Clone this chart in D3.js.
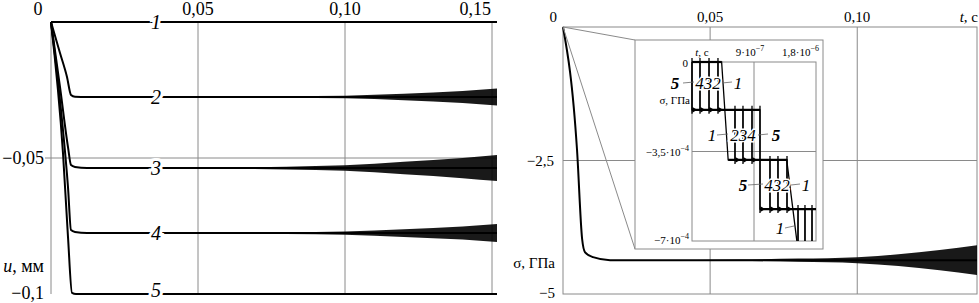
<!DOCTYPE html>
<html>
<head>
<meta charset="utf-8">
<script src="https://cdn.jsdelivr.net/npm/d3@7"></script>
<style>
body { margin: 0; background: #fff; }
text { font-family: "Liberation Serif", "DejaVu Serif", serif; fill: #000; }
</style>
</head>
<body>
<svg id="chart" width="979" height="303"></svg>
<script>
// ---- left panel: u (mm) vs t (s) ----
var uTicksT = [0.05, 0.10, 0.15];
var uTickLabelsT = ["0,05", "0,10", "0,15"];
var uGridU = [-0.05];
var uCurve1 = [[0, 0], [0.1517, 0]];
var uCurve2 = [[0, 0], [0.00306, -0.0114], [0.00544, -0.0202], [0.0068, -0.0268], [0.00816, -0.02745], [0.01224, -0.02757], [0.1517, -0.02757]];
var uCurve3 = [[0, 0], [0.00306, -0.0239], [0.00578, -0.046], [0.0068, -0.0526], [0.00816, -0.0533], [0.01224, -0.0537], [0.1517, -0.0537]];
var uCurve4 = [[0, 0], [0.00374, -0.036], [0.00578, -0.0607], [0.0068, -0.0765], [0.00816, -0.0772], [0.01224, -0.0776], [0.1517, -0.0776]];
var uCurve5 = [[0, 0], [0.00408, -0.0482], [0.00578, -0.079], [0.00714, -0.0996], [0.0085, -0.1], [0.01224, -0.1], [0.1517, -0.1]];
var uCurveNames = ["1", "2", "3", "4", "5"];
// oscillation envelope (half amplitude, mm) of curves 2-4
var uEnvT = [0.05, 0.06, 0.08, 0.10, 0.12, 0.14, 0.1517];
var uEnv2 = [0, 0.00015, 0.0003, 0.0005, 0.0012, 0.0022, 0.0031];
var uEnv3 = [0, 0.0002, 0.0005, 0.001, 0.0023, 0.0037, 0.0048];
var uEnv4 = [0, 0.00015, 0.0003, 0.0006, 0.0014, 0.0024, 0.0033];

// ---- right panel: sigma (GPa) vs t (s) ----
var sTicksT = [0.05, 0.10];
var sTickLabelsT = ["0,05", "0,10"];
var sGridS = [-2.5];
var sCurve = [[0, 0], [0.00476, -2.295], [0.0065, -3.97], [0.0075, -4.22], [0.0102, -4.31], [0.016, -4.366], [0.1407, -4.366]];
var sEnvT = [0.03, 0.06, 0.08, 0.10, 0.114, 0.128, 0.1407];
var sEnv = [0, 0.012, 0.03, 0.056, 0.11, 0.19, 0.28];

// ---- inset: sigma vs t at micro-second scale ----
var L1 = -1.87e-4, L2 = -3.83e-4, L3 = -5.75e-4, L4 = -7.6e-4;
var inCurve1 = [[0, 0], [4.3e-7, 0], [5.25e-7, L2], [1.375e-6, L2], [1.55e-6, L4], [1.8e-6, L4]];
var inCurve2 = [[0, 0], [3.77e-7, L1], [6.24e-7, L2], [1.379e-6, L3], [1.539e-6, L4], [1.8e-6, L4]];
var inCurve3 = [[0, 0], [2.47e-7, L1], [7.40e-7, L2], [1.248e-6, L3], [1.640e-6, L4], [1.8e-6, L4]];
var inCurve4 = [[0, 0], [1.16e-7, L1], [8.71e-7, L2], [1.132e-6, L3], [1.742e-6, L4], [1.8e-6, L4]];
var inCurve5 = [[0, 0], [0, L1], [9.87e-7, L3], [1.8e-6, L3]];

var svg = d3.select("#chart");
var grid = "#8a8a8a";

//scales
var xL = d3.scaleLinear().domain([0, 0.1517]).range([51, 497]);
var yL = d3.scaleLinear().domain([0, -0.1]).range([22, 294]);
var xR = d3.scaleLinear().domain([0, 0.1407]).range([563, 977]);
var yR = d3.scaleLinear().domain([0, -5]).range([27, 294]);
var xI = d3.scaleLinear().domain([0, 1.8e-6]).range([692, 816]);
var yI = d3.scaleLinear().domain([0, -7e-4]).range([62, 241]);

// ===== left panel =====
var left = svg.append("g");
left.selectAll(".vg").data(uTicksT).enter().append("line")
  .attr("x1", d => xL(d)).attr("x2", d => xL(d))
  .attr("y1", yL(0)).attr("y2", yL(-0.1))
  .attr("stroke", grid).attr("stroke-width", 1);
left.append("line").attr("x1", xL(0)).attr("x2", xL(0)).attr("y1", yL(0)).attr("y2", yL(-0.1))
  .attr("stroke", grid);
left.selectAll(".hg").data(uGridU).enter().append("line")
  .attr("x1", xL(0) - 6).attr("x2", xL(0.1517))
  .attr("y1", d => yL(d)).attr("y2", d => yL(d))
  .attr("stroke", grid);

var envArea = function(center, env) {
  return d3.area()
    .x((d, i) => xL(uEnvT[i]))
    .y0((d, i) => yL(center - env[i]))
    .y1((d, i) => yL(center + env[i]))
    .curve(d3.curveMonotoneX)(uEnvT);
};
[[-0.02757, uEnv2], [-0.0537, uEnv3], [-0.0776, uEnv4]].forEach(function(e) {
  left.append("path").attr("d", envArea(e[0], e[1])).attr("fill", "#000").attr("fill-opacity", 0.9);
});

var uLine = d3.line().x(d => xL(d[0])).y(d => yL(d[1])).curve(d3.curveMonotoneX);
var uCurves = [uCurve1, uCurve2, uCurve3, uCurve4, uCurve5];
left.selectAll(".uc").data(uCurves).enter().append("path")
  .attr("d", uLine).attr("fill", "none").attr("stroke", "#000").attr("stroke-width", 2);

// curve numbers sitting on the lines
left.selectAll(".ul").data(uCurves).enter().append("text")
  .attr("x", 156).attr("y", (d, i) => i == 4 ? 297 : yL(d[d.length - 1][1]) + 7)
  .attr("text-anchor", "middle")
  .attr("font-size", 20).attr("font-style", "italic")
  .attr("stroke", "#fff").attr("stroke-width", 6).attr("paint-order", "stroke")
  .text((d, i) => uCurveNames[i]);

//tick labels
left.selectAll(".tl").data(uTicksT).enter().append("text")
  .attr("x", (d, i) => i == 2 ? xL(d) - 1 : xL(d))
  .attr("y", 15).attr("font-size", 18)
  .attr("text-anchor", (d, i) => i == 2 ? "end" : "middle")
  .text((d, i) => uTickLabelsT[i]);
left.append("text").attr("x", 38).attr("y", 15).attr("font-size", 18).attr("text-anchor", "middle").text("0");
left.append("text").attr("x", 44).attr("y", yL(-0.05) + 6).attr("font-size", 18).attr("text-anchor", "end").text("\u22120,05");
left.append("text").attr("x", 44).attr("y", yL(-0.1) + 5).attr("font-size", 18).attr("text-anchor", "end").text("\u22120,1");
var ulab = left.append("text").attr("x", 44).attr("y", 272).attr("font-size", 18).attr("text-anchor", "end");
ulab.append("tspan").attr("font-style", "italic").text("u");
ulab.append("tspan").text(", мм");

// ===== right panel =====
var right = svg.append("g");
right.append("rect").attr("x", xR(0)).attr("y", yR(0))
  .attr("width", xR(0.1407) - xR(0)).attr("height", yR(-5) - yR(0))
  .attr("fill", "none").attr("stroke", grid);
right.selectAll(".vg").data(sTicksT).enter().append("line")
  .attr("x1", d => xR(d)).attr("x2", d => xR(d))
  .attr("y1", yR(0)).attr("y2", yR(-5)).attr("stroke", grid);
right.selectAll(".hg").data(sGridS).enter().append("line")
  .attr("x1", xR(0)).attr("x2", xR(0.1407))
  .attr("y1", d => yR(d)).attr("y2", d => yR(d)).attr("stroke", grid);

right.append("path")
  .attr("d", d3.area()
    .x((d, i) => xR(sEnvT[i]))
    .y0((d, i) => yR(-4.366 - sEnv[i]))
    .y1((d, i) => yR(-4.366 + sEnv[i]))
    .curve(d3.curveMonotoneX)(sEnvT))
  .attr("fill", "#000").attr("fill-opacity", 0.9);
right.append("path").datum(sCurve)
  .attr("d", d3.line().x(d => xR(d[0])).y(d => yR(d[1])).curve(d3.curveMonotoneX))
  .attr("fill", "none").attr("stroke", "#000").attr("stroke-width", 2);

right.selectAll(".tl").data(sTicksT).enter().append("text")
  .attr("x", d => xR(d)).attr("y", 22).attr("font-size", 15).attr("text-anchor", "middle")
  .text((d, i) => sTickLabelsT[i]);
right.append("text").attr("x", 557).attr("y", 22).attr("font-size", 15).attr("text-anchor", "end").text("0");
var tlab = right.append("text").attr("x", 978).attr("y", 22).attr("font-size", 15).attr("text-anchor", "end");
tlab.append("tspan").attr("font-style", "italic").text("t");
tlab.append("tspan").text(", c");
right.append("text").attr("x", 554).attr("y", yR(-2.5) + 5).attr("font-size", 15).attr("text-anchor", "end").text("\u22122,5");
right.append("text").attr("x", 555).attr("y", 268).attr("font-size", 15).attr("text-anchor", "end").text("σ, ГПа");
right.append("text").attr("x", 555).attr("y", 298).attr("font-size", 15).attr("text-anchor", "end").text("\u22125");

// zoom lines + inset box
var box = {x0: 635, y0: 40, x1: 823, y1: 249};
right.append("line").attr("x1", xR(0)).attr("y1", yR(0)).attr("x2", box.x0).attr("y2", box.y0).attr("stroke", grid);
right.append("line").attr("x1", xR(0)).attr("y1", yR(0)).attr("x2", box.x0).attr("y2", box.y1).attr("stroke", grid);
right.append("rect").attr("x", box.x0).attr("y", box.y0)
  .attr("width", box.x1 - box.x0).attr("height", box.y1 - box.y0)
  .attr("fill", "#fff").attr("stroke", grid);

// ===== inset =====
var inset = svg.append("g");
inset.append("clipPath").attr("id", "inclip").append("rect")
  .attr("x", xI(0) - 2).attr("y", yI(0) - 6).attr("width", xI(1.8e-6) - xI(0) + 2).attr("height", yI(-7e-4) - yI(0) + 6);
inset.append("rect").attr("x", xI(0)).attr("y", yI(0))
  .attr("width", xI(1.8e-6) - xI(0)).attr("height", yI(-7e-4) - yI(0))
  .attr("fill", "none").attr("stroke", grid);
inset.append("line").attr("x1", xI(9e-7)).attr("x2", xI(9e-7)).attr("y1", yI(0)).attr("y2", yI(-7e-4)).attr("stroke", grid);
inset.append("line").attr("x1", xI(0)).attr("x2", xI(1.8e-6)).attr("y1", yI(-3.5e-4)).attr("y2", yI(-3.5e-4)).attr("stroke", grid);

var ic = inset.append("g").attr("clip-path", "url(#inclip)");
var stepLine = d3.line().x(d => xI(d[0])).y(d => yI(d[1])).curve(d3.curveStepAfter);
[inCurve2, inCurve3, inCurve4, inCurve5].forEach(function(c) {
  ic.append("path").datum(c).attr("d", stepLine)
    .attr("fill", "none").attr("stroke", "#000").attr("stroke-width", 1.3);
  // overshoot spikes at each wave front
  for (var i = 1; i < c.length; i++) {
    if (c[i][1] != c[i - 1][1]) {
      ic.append("line")
        .attr("x1", xI(c[i][0])).attr("x2", xI(c[i][0]))
        .attr("y1", yI(c[i - 1][1]) - 4).attr("y2", yI(c[i][1]) + 4)
        .attr("stroke", "#000").attr("stroke-width", 1.3);
      ic.append("path")
        .attr("d", d3.symbol().type(d3.symbolTriangle).size(14)())
        .attr("transform", "translate(" + (xI(c[i][0]) + 2) + "," + yI(c[i][1]) + ") rotate(90)")
        .attr("fill", "#000");
    }
  }
});
ic.append("path").datum(inCurve1)
  .attr("d", d3.line().x(d => xI(d[0])).y(d => yI(d[1])))
  .attr("fill", "none").attr("stroke", "#000").attr("stroke-width", 1.3);
// thick level bars
ic.selectAll(".bar").data([0, L1, L2, L3]).enter().append("line")
  .attr("x1", (d, i) => xI([0, 0, 5.25e-7, 9.87e-7][i]))
  .attr("x2", (d, i) => xI([4.3e-7, 9.87e-7, 1.379e-6, 1.8e-6][i]))
  .attr("y1", d => yI(d)).attr("y2", d => yI(d))
  .attr("stroke", "#000").attr("stroke-width", 2.2);

// inset axis texts
var small = 11;
inset.append("text").attr("x", 688).attr("y", 67).attr("font-size", small).attr("text-anchor", "end").text("0");
inset.append("text").attr("x", 690).attr("y", 104).attr("font-size", small).attr("text-anchor", "end").text("σ, ГПа");
var t1 = inset.append("text").attr("x", 689).attr("y", yI(-3.5e-4) + 4).attr("font-size", small).attr("text-anchor", "end");
t1.append("tspan").text("\u22123,5·10");
t1.append("tspan").attr("dy", -5).attr("font-size", 8).text("\u22124");
var t2 = inset.append("text").attr("x", 689).attr("y", yI(-7e-4) + 3).attr("font-size", small).attr("text-anchor", "end");
t2.append("tspan").text("\u22127·10");
t2.append("tspan").attr("dy", -5).attr("font-size", 8).text("\u22124");
var t3 = inset.append("text").attr("x", 702).attr("y", 56).attr("font-size", small).attr("text-anchor", "middle");
t3.append("tspan").attr("font-style", "italic").text("t");
t3.append("tspan").text(", c");
var t4 = inset.append("text").attr("x", xI(9e-7) - 4).attr("y", 56).attr("font-size", small).attr("text-anchor", "middle");
t4.append("tspan").text("9·10");
t4.append("tspan").attr("dy", -5).attr("font-size", 8).text("\u22127");
var t5 = inset.append("text").attr("x", 819).attr("y", 56).attr("font-size", small).attr("text-anchor", "end");
t5.append("tspan").text("1,8·10");
t5.append("tspan").attr("dy", -5).attr("font-size", 8).text("\u22126");

// curve labels with leaders
var leaders = [[683, 83, 694, 82], [722, 83, 732, 82], [717, 135, 728, 134], [758, 135, 768, 134],
               [748, 185, 763, 184], [791, 185, 800, 184], [785, 228, 794, 226]];
inset.selectAll(".ld").data(leaders).enter().append("line")
  .attr("x1", d => d[0]).attr("y1", d => d[1]).attr("x2", d => d[2]).attr("y2", d => d[3])
  .attr("stroke", "#666").attr("stroke-width", 0.8);
var labs = [["5", 675, 89], ["432", 708, 89], ["1", 738, 89],
            ["1", 712, 141], ["234", 743, 141], ["5", 776, 141],
            ["5", 743, 191], ["432", 777, 191], ["1", 806, 191],
            ["1", 780, 234]];
inset.selectAll(".lb").data(labs).enter().append("text")
  .attr("x", d => d[1]).attr("y", d => d[2])
  .attr("text-anchor", "middle").attr("font-size", 17).attr("font-style", "italic")
  .attr("font-weight", d => d[0] == "5" ? "bold" : "normal")
  .attr("stroke", "#fff").attr("stroke-width", 3).attr("paint-order", "stroke")
  .text(d => d[0]);
</script>
</body>
</html>
